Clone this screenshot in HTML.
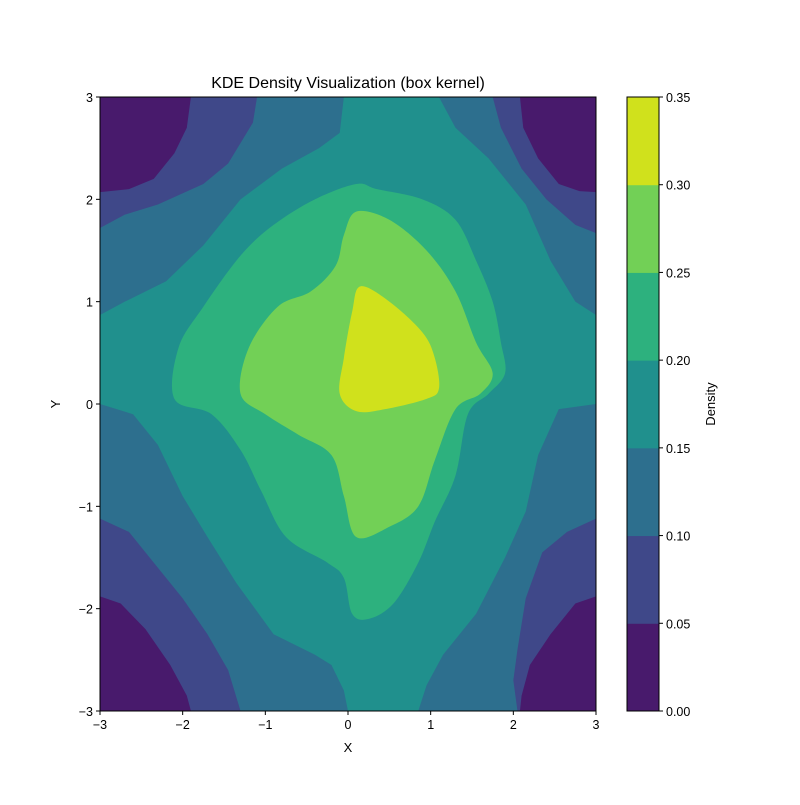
<!DOCTYPE html>
<html><head><meta charset="utf-8"><style>
body{margin:0;background:#fff}
svg{font-family:"Liberation Sans","DejaVu Sans",sans-serif}
</style></head><body>
<svg id="chart" width="800" height="800" viewBox="0 0 800 800">
<text x="348" y="88" text-anchor="middle" font-size="16">KDE Density Visualization (box kernel)</text>
<defs><clipPath id="plotclip"><rect x="100" y="97" width="496" height="614"/></clipPath></defs>
<g id="plot" clip-path="url(#plotclip)"></g>
<rect x="100" y="97" width="496" height="614" fill="none" stroke="#000" stroke-width="1"/>
<g id="xaxis"></g>
<g id="yaxis"></g>
<text x="348" y="752" text-anchor="middle" font-size="13">X</text>
<text x="60" y="404" text-anchor="middle" font-size="13" transform="rotate(-90 60 404)">Y</text>
<g id="cbar"></g>
<text x="715" y="404" text-anchor="middle" font-size="13" transform="rotate(-90 715 404)">Density</text>
</svg>
<script>
const levels=[0,0.05,0.10,0.15,0.20,0.25,0.30,0.35];
const levelColors=["#481a6c","#3f4889","#2d6f8e","#20908d","#2db17e","#72d056","#d0e11c"];
const xTicks=[-3,-2,-1,0,1,2,3];
const yTicks=[-3,-2,-1,0,1,2,3];
const cornerTL0=[[-3,3],[-1.9,3],[-1.95,2.7],[-2.1,2.45],[-2.35,2.2],[-2.65,2.1],[-3,2.07]];
const cornerTR0=[[3,3],[2.08,3],[2.12,2.7],[2.3,2.4],[2.55,2.15],[2.8,2.08],[3,2.07]];
const cornerBL0=[[-3,-3],[-3,-1.88],[-2.75,-1.95],[-2.45,-2.2],[-2.15,-2.55],[-1.95,-2.85],[-1.9,-3]];
const cornerBR0=[[3,-3],[3,-1.88],[2.75,-1.95],[2.45,-2.25],[2.2,-2.55],[2.1,-2.85],[2.08,-3]];
const cornerTL1=[[-3,3],[-1.1,3],[-1.15,2.75],[-1.45,2.35],[-1.75,2.15],[-2.3,1.95],[-2.7,1.85],[-3,1.72]];
const cornerTR1=[[3,3],[1.75,3],[1.85,2.7],[2.1,2.3],[2.4,2.0],[2.75,1.75],[3,1.67]];
const cornerBL1=[[-3,-3],[-3,-1.12],[-2.65,-1.25],[-2.35,-1.55],[-2.0,-1.9],[-1.7,-2.25],[-1.45,-2.6],[-1.3,-3]];
const cornerBR1=[[3,-3],[3,-1.12],[2.65,-1.25],[2.35,-1.45],[2.15,-1.9],[2.05,-2.4],[2.0,-2.7],[2.05,-3]];
const band3=[[-0.05,3],[-0.1,2.65],[-0.35,2.5],[-0.8,2.3],[-1.3,2.0],[-1.75,1.55],[-2.2,1.2],[-2.7,1.0],[-3,0.87],[-3,0],[-2.6,-0.1],[-2.3,-0.4],[-2.0,-0.9],[-1.7,-1.3],[-1.35,-1.75],[-0.9,-2.25],[-0.4,-2.45],[-0.2,-2.55],[-0.05,-2.8],[0,-3],[0.85,-3],[0.95,-2.75],[1.15,-2.45],[1.55,-2.05],[1.9,-1.5],[2.15,-1.05],[2.3,-0.5],[2.55,-0.05],[3,0],[3,0.87],[2.75,1.0],[2.45,1.4],[2.15,1.95],[1.7,2.4],[1.3,2.7],[1.1,3]];
const band4=[[0.1,2.15],[0.35,2.1],[0.9,2.0],[1.3,1.8],[1.55,1.4],[1.75,1.0],[1.85,0.6],[1.9,0.3],[1.7,0.1],[1.45,-0.1],[1.3,-0.7],[1.05,-1.15],[0.85,-1.55],[0.55,-1.95],[0.25,-2.1],[0.05,-2.05],[-0.05,-1.7],[-0.25,-1.55],[-0.75,-1.3],[-1.05,-0.85],[-1.3,-0.45],[-1.65,-0.1],[-2.1,0.05],[-2.05,0.55],[-1.75,0.95],[-1.3,1.45],[-0.9,1.75],[-0.4,2.0]];
const band5=[[0.1,1.88],[0.5,1.8],[0.95,1.5],[1.3,1.1],[1.55,0.6],[1.75,0.3],[1.6,0.1],[1.3,-0.05],[1.05,-0.55],[0.85,-1.0],[0.5,-1.2],[0.1,-1.3],[-0.05,-0.9],[-0.2,-0.5],[-0.6,-0.3],[-1.0,-0.1],[-1.3,0.1],[-1.2,0.55],[-0.85,0.95],[-0.45,1.1],[-0.15,1.35],[-0.05,1.65]];
const band6=[[0.15,1.15],[0.5,1.0],[0.9,0.7],[1.05,0.45],[1.1,0.15],[0.95,0.05],[0.45,-0.05],[0.1,-0.07],[-0.1,0.1],[-0.05,0.45],[0.05,0.9]];

const X0=100,X1=596,Y0=711,Y1=97;
const sx=v=>X0+(v+3)/6*(X1-X0);
const sy=v=>Y0-(v+3)/6*(Y0-Y1);
const NS="http://www.w3.org/2000/svg";
const plot=document.getElementById('plot');
function smoothPath(pts){
  const p=pts.map(q=>[sx(q[0]),sy(q[1])]);const n=p.length;
  let d=`M${p[0][0]},${p[0][1]}`;
  for(let i=0;i<n;i++){const a=p[(i-1+n)%n],b=p[i],c=p[(i+1)%n],e=p[(i+2)%n];
    d+=`C${b[0]+(c[0]-a[0])/6},${b[1]+(c[1]-a[1])/6} ${c[0]-(e[0]-b[0])/6},${c[1]-(e[1]-b[1])/6} ${c[0]},${c[1]}`;}
  return d+'Z';
}
function polyPath(pts){return 'M'+pts.map(q=>sx(q[0])+','+sy(q[1])).join('L')+'Z';}
function addRegion(name,level,pts,smooth){
  const el=document.createElementNS(NS,'path');
  el.setAttribute('d',smooth?smoothPath(pts):polyPath(pts));
  el.setAttribute('fill',levelColors[level]);
  
  
  plot.appendChild(el);
}
const bg=document.createElementNS(NS,'rect');
bg.setAttribute('x',X0);bg.setAttribute('y',Y1);bg.setAttribute('width',X1-X0);bg.setAttribute('height',Y0-Y1);bg.setAttribute('fill',levelColors[2]);


plot.appendChild(bg);
addRegion('contour-corner-tl-0.05',1,cornerTL1,false);
addRegion('contour-corner-tr-0.05',1,cornerTR1,false);
addRegion('contour-corner-bl-0.05',1,cornerBL1,false);
addRegion('contour-corner-br-0.05',1,cornerBR1,false);
addRegion('contour-corner-tl-0.00',0,cornerTL0,false);
addRegion('contour-corner-tr-0.00',0,cornerTR0,false);
addRegion('contour-corner-bl-0.00',0,cornerBL0,false);
addRegion('contour-corner-br-0.00',0,cornerBR0,false);
addRegion('contour-level-0.15',3,band3,false);
addRegion('contour-level-0.20',4,band4,true);
addRegion('contour-level-0.25',5,band5,true);
addRegion('contour-level-0.30',6,band6,true);

function txt(parent,x,y,s,anchor,name){const t=document.createElementNS(NS,'text');t.setAttribute('x',x);t.setAttribute('y',y);t.setAttribute('text-anchor',anchor);t.setAttribute('font-size','12.5');t.textContent=s;


parent.appendChild(t);}
function line(parent,x1,y1,x2,y2,name){const l=document.createElementNS(NS,'line');l.setAttribute('x1',x1);l.setAttribute('y1',y1);l.setAttribute('x2',x2);l.setAttribute('y2',y2);l.setAttribute('stroke','#000');


parent.appendChild(l);}
const fmt=v=>(v<0?'\u2212':'')+Math.abs(v);
const xa=document.getElementById('xaxis'),ya=document.getElementById('yaxis');
xTicks.forEach(v=>{line(xa,sx(v),Y0,sx(v),Y0+4,'x-tick');txt(xa,sx(v),Y0+18,fmt(v),'middle','x-tick-label');});
yTicks.forEach(v=>{line(ya,X0-4,sy(v),X0,sy(v),'y-tick');txt(ya,X0-7,sy(v)+5,fmt(v),'end','y-tick-label');});
const cb=document.getElementById('cbar');const CX=627,CW=32;
const cy=v=>Y0-(v-levels[0])/(levels[levels.length-1]-levels[0])*(Y0-Y1);
for(let i=0;i<levelColors.length;i++){const r=document.createElementNS(NS,'rect');r.setAttribute('x',CX);r.setAttribute('y',cy(levels[i+1]));r.setAttribute('width',CW);r.setAttribute('height',cy(levels[i])-cy(levels[i+1])+0.5);r.setAttribute('fill',levelColors[i]);


cb.appendChild(r);}
const fr=document.createElementNS(NS,'rect');fr.setAttribute('x',CX);fr.setAttribute('y',Y1);fr.setAttribute('width',CW);fr.setAttribute('height',Y0-Y1);fr.setAttribute('fill','none');fr.setAttribute('stroke','#000');


cb.appendChild(fr);
levels.forEach(v=>{line(cb,CX+CW,cy(v),CX+CW+4,cy(v),'colorbar-tick');txt(cb,CX+CW+7,cy(v)+5,v.toFixed(2),'start','colorbar-tick-label');});
</script>
</body></html>
